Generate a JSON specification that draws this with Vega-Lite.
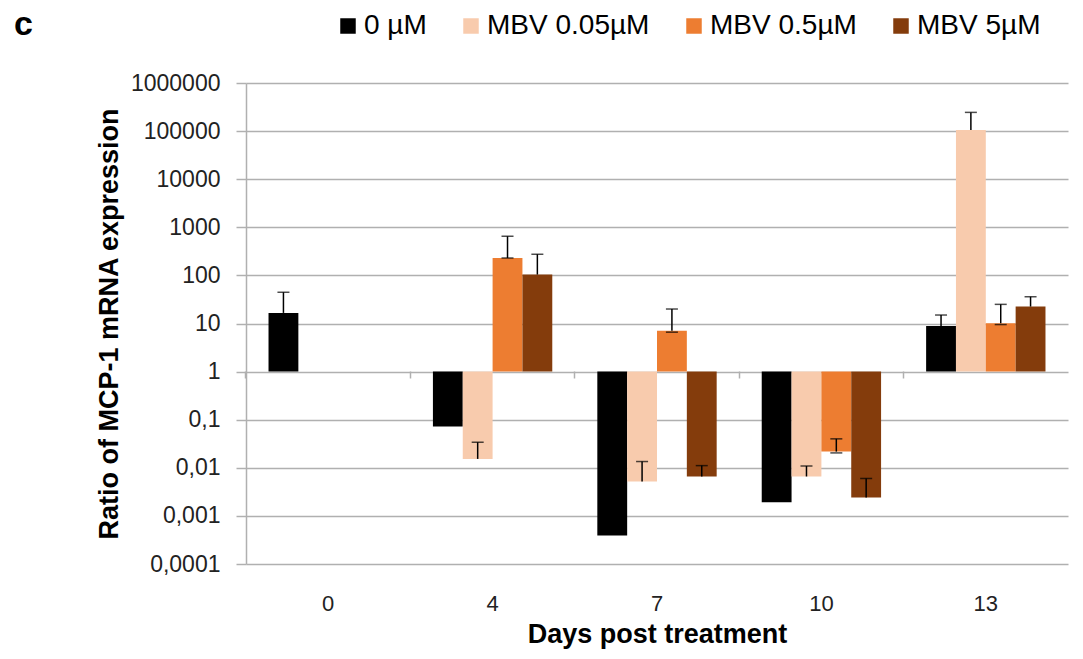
{
  "$schema": "https://vega.github.io/schema/vega-lite/v6.json",
  "width": 822,
  "height": 481,
  "autosize": "none",
  "padding": {"left": 246, "top": 83, "right": 15, "bottom": 95},
  "background": "white",
  "config": {"view": {"stroke": null}, "font": "Liberation Sans"},
  "title": {"text": "c", "anchor": "start", "frame": "group", "fontSize": 34, "fontWeight": "bold", "color": "#000", "dx": -232, "offset": -30},
  "data": {"values": [
    {"day": "0", "group": "0 µM", "value": 16.6, "hi": 44.6},
    {"day": "4", "group": "0 µM", "value": 0.072},
    {"day": "4", "group": "MBV 0.05µM", "value": 0.0153, "hi": 0.034},
    {"day": "4", "group": "MBV 0.5µM", "value": 230, "hi": 650, "lo": 230},
    {"day": "4", "group": "MBV 5µM", "value": 104, "hi": 275},
    {"day": "7", "group": "0 µM", "value": 0.00039},
    {"day": "7", "group": "MBV 0.05µM", "value": 0.00516, "hi": 0.0135},
    {"day": "7", "group": "MBV 0.5µM", "value": 7.1, "hi": 20, "lo": 6.6},
    {"day": "7", "group": "MBV 5µM", "value": 0.0066, "hi": 0.0111},
    {"day": "10", "group": "0 µM", "value": 0.00192},
    {"day": "10", "group": "MBV 0.05µM", "value": 0.0066, "hi": 0.0109},
    {"day": "10", "group": "MBV 0.5µM", "value": 0.0217, "hi": 0.040, "lo": 0.0204},
    {"day": "10", "group": "MBV 5µM", "value": 0.0024, "hi": 0.0060},
    {"day": "13", "group": "0 µM", "value": 8.9, "hi": 15},
    {"day": "13", "group": "MBV 0.05µM", "value": 106000, "hi": 245000},
    {"day": "13", "group": "MBV 0.5µM", "value": 10.1, "hi": 25, "lo": 9.5},
    {"day": "13", "group": "MBV 5µM", "value": 22.5, "hi": 36}
  ]},
  "resolve": {"axis": {"x": "independent"}},
  "layer": [
    {
      "mark": {"type": "bar"},
      "encoding": {
        "x": {"field": "day", "type": "nominal", "sort": ["0", "4", "7", "10", "13"],
          "scale": {"domain": ["0", "4", "7", "10", "13"], "paddingInner": 0.274, "paddingOuter": 0.137},
          "axis": {"orient": "bottom", "title": "Days post treatment", "titleFontSize": 27, "titleFontWeight": "bold", "titleColor": "#000", "titlePadding": 7,
            "labelFontSize": 22, "labelAngle": 0, "labelColor": "#222", "labelPadding": 29, "ticks": false, "domain": false, "grid": false}},
        "xOffset": {"field": "group", "type": "nominal", "scale": {"domain": ["0 µM", "MBV 0.05µM", "MBV 0.5µM", "MBV 5µM"], "padding": 0}},
        "y": {"field": "value", "type": "quantitative",
          "scale": {"type": "log", "domain": [0.0001, 1000000], "nice": false},
          "axis": {"title": "Ratio of MCP-1 mRNA  expression", "titleFontSize": 27, "titleFontWeight": "bold", "titleColor": "#000", "titlePadding": 7,
            "values": [0.0001, 0.001, 0.01, 0.1, 1, 10, 100, 1000, 10000, 100000, 1000000],
            "labelExpr": "replace(toString(datum.value), '.', ',')",
            "labelFontSize": 23, "labelColor": "#222", "labelPadding": 16, "tickSize": 10, "tickColor": "#b0b0b0", "tickWidth": 1.5,
            "domainColor": "#b0b0b0", "domainWidth": 1.5, "grid": true, "gridColor": "#b0b0b0", "gridWidth": 1.5}},
        "y2": {"datum": 1},
        "color": {"field": "group", "type": "nominal",
          "scale": {"domain": ["0 µM", "MBV 0.05µM", "MBV 0.5µM", "MBV 5µM"], "range": ["#000000", "#F8CBAD", "#ED7D31", "#843C0C"]},
          "legend": {"orient": "none", "legendX": 88, "legendY": -71, "direction": "horizontal", "title": null,
            "symbolType": "square", "symbolSize": 240, "symbolStrokeWidth": 0, "symbolOpacity": 1,
            "labelFontSize": 28, "labelColor": "#000", "labelOffset": 2, "labelLimit": 400, "columnPadding": 30}}
      }
    },
    {
      "mark": {"type": "rule", "color": "#000", "strokeWidth": 1.5},
      "encoding": {
        "x": {"field": "day", "type": "nominal", "sort": ["0", "4", "7", "10", "13"],
          "axis": {"orient": "bottom", "offset": -193, "labels": false, "title": null, "domain": false, "ticks": true, "tickSize": 7, "tickColor": "#b0b0b0", "tickWidth": 1.5, "bandPosition": -0.189, "grid": false}},
        "xOffset": {"field": "group", "type": "nominal"},
        "y": {"field": "value", "type": "quantitative"},
        "y2": {"field": "hi"}
      }
    },
    {
      "mark": {"type": "tick", "color": "#000", "size": 12, "thickness": 1.5, "orient": "horizontal"},
      "encoding": {
        "x": {"field": "day", "type": "nominal", "sort": ["0", "4", "7", "10", "13"], "axis": null},
        "xOffset": {"field": "group", "type": "nominal"},
        "y": {"field": "hi", "type": "quantitative"}
      }
    },
    {
      "mark": {"type": "tick", "color": "#000", "size": 12, "thickness": 1.5, "orient": "horizontal"},
      "encoding": {
        "x": {"field": "day", "type": "nominal", "sort": ["0", "4", "7", "10", "13"], "axis": null},
        "xOffset": {"field": "group", "type": "nominal"},
        "y": {"field": "lo", "type": "quantitative"}
      }
    }
  ]
}
